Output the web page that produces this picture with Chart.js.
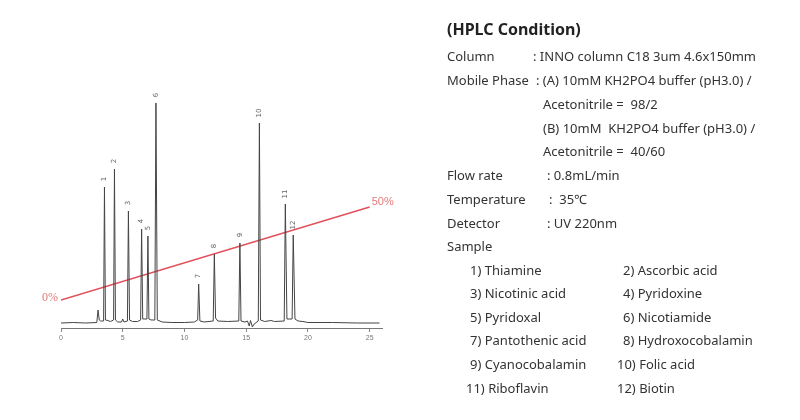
<!DOCTYPE html>
<html>
<head>
<meta charset="utf-8">
<script src="https://cdn.jsdelivr.net/npm/chart.js@4/dist/chart.umd.min.js"></script>
<style>
  body { margin: 0; background: #fff; }
  #wrap { position: relative; width: 800px; height: 420px; overflow: hidden; }
  #chart { position: absolute; left: 0; top: 0; }
  .t { position: absolute; font-family: "Noto Sans", sans-serif; font-size: 13px; color: #333; white-space: pre; line-height: 16px; }
  #title { font-weight: bold; font-size: 16px; color: #222; }
</style>
</head>
<body>
<div id="wrap">
  <canvas id="chart" width="800" height="420"></canvas>
  <div id="info"></div>
</div>
<script>
// peaks (retention time in min, height above baseline)
var peakNames = ['1','2','3','4','5','6','7','8','9','10','11','12'];
var peakTimes = [3.52, 4.33, 5.46, 6.53, 7.04, 7.69, 11.15, 12.42, 14.49, 16.07, 18.17, 18.81];
var peakHeights = [136, 154, 112, 94, 87, 220, 39, 69, 80, 200, 119, 88];

// detector trace, time / signal
var traceTime = [0, 1, 2, 2.9, 3.0, 3.1, 3.2, 3.45, 3.52, 3.6, 3.8, 4.0, 4.26, 4.33, 4.41, 4.6, 4.9, 5.0, 5.1,
  5.38, 5.46, 5.55, 5.8, 6.2, 6.45, 6.53, 6.62, 6.8, 6.96, 7.04, 7.12, 7.3, 7.6, 7.69, 7.8, 8.2, 9, 10,
  10.8, 11.07, 11.15, 11.25, 11.6, 12.33, 12.42, 12.52, 12.7, 13.5, 14.4, 14.49, 14.58, 14.9, 15.1, 15.25,
  15.35, 15.5, 15.65, 15.98, 16.07, 16.16, 16.5, 17, 17.3, 18.08, 18.17, 18.3, 18.72, 18.81, 18.95, 19.2,
  19.6, 20, 22, 24, 25.8];
var traceSignal = [0, 0.5, 0, 0.5, 13, 3, 2, 2, 136, 3, 2.5, 1.5, 3, 154, 3, 1, 1, 4, 1,
  2, 112, 3, 1.5, 1.5, 3, 94, 4, 4, 4, 87, 4, 3, 3, 220, 3, 1, 0.5, 0.5,
  1, 3, 39, 2, 1, 2, 69, 5, 2, 1.5, 2, 80, 2, 1, 2, -3,
  2.5, -4, -1, 2, 200, 3, 1.5, 2.5, 1.5, 2, 119, 4, 4, 88, 4, 2,
  1.5, 0.5, 0.5, 0, 0];

// acetonitrile gradient (B %)
var gradTime = [0, 25];
var gradPercent = [0, 50];

var xTicks = [0, 5, 10, 15, 20, 25];

var infoLines = [
  ['(HPLC Condition)', 447, 21, 'title'],
  ['Column', 447, 48],
  [': INNO column C18 3um 4.6x150mm', 533, 48],
  ['Mobile Phase', 447, 72],
  [': (A) 10mM KH2PO4 buffer (pH3.0) /', 536, 72],
  ['Acetonitrile =  98/2', 543, 96],
  ['(B) 10mM  KH2PO4 buffer (pH3.0) /', 543, 120],
  ['Acetonitrile =  40/60', 543, 143],
  ['Flow rate', 447, 167],
  [': 0.8mL/min', 547, 167],
  ['Temperature', 447, 191],
  [':  35\u2103', 549, 191],
  ['Detector', 447, 215],
  [': UV 220nm', 547, 215],
  ['Sample', 447, 238],
  ['1) Thiamine', 470, 262], ['2) Ascorbic acid', 623, 262],
  ['3) Nicotinic acid', 470, 285], ['4) Pyridoxine', 623, 285],
  ['5) Pyridoxal', 470, 309], ['6) Nicotiamide', 623, 309],
  ['7) Pantothenic acid', 470, 332], ['8) Hydroxocobalamin', 623, 332],
  ['9) Cyanocobalamin', 470, 356], ['10) Folic acid', 617, 356],
  ['11) Riboflavin', 466, 380], ['12) Biotin', 617, 380]
];

var info = document.getElementById('info');
infoLines.map(function (l) {
  var d = document.createElement('div');
  d.className = 't';
  if (l[3]) d.id = l[3];
  d.textContent = l[0];
  d.style.left = l[1] + 'px';
  d.style.top = l[2] + 'px';
  info.appendChild(d);
});

var tracePoints = traceTime.map(function (t, k) { return { x: t, y: traceSignal[k] }; });
var gradPoints = gradTime.map(function (t, k) { return { x: t, y: gradPercent[k] }; });

// peak numbers + gradient end labels
var labelPlugin = {
  id: 'labels',
  afterDatasetsDraw: function (chart) {
    var ctx = chart.ctx;
    var xs = chart.scales.x, ys = chart.scales.y, y2 = chart.scales.y2;
    ctx.save();
    ctx.fillStyle = '#666';
    ctx.font = '7px "DejaVu Sans", sans-serif';
    ctx.textAlign = 'center';
    ctx.textBaseline = 'middle';
    for (var k = 0; k < peakTimes.length; k++) {
      var px = xs.getPixelForValue(peakTimes[k]);
      var py = ys.getPixelForValue(peakHeights[k]) - 6 - peakNames[k].length * 2;
      ctx.save();
      ctx.translate(px, py);
      ctx.rotate(-Math.PI / 2);
      ctx.fillText(peakNames[k], 0, 0);
      ctx.restore();
    }
    ctx.fillStyle = '#e27a7a';
    ctx.font = '12px "Liberation Serif", serif';
    ctx.textAlign = 'right';
    ctx.fillText(gradPercent[0] + '%', xs.getPixelForValue(gradTime[0]) - 3, y2.getPixelForValue(gradPercent[0]) - 2);
    ctx.textAlign = 'left';
    ctx.font = '11px "Liberation Sans", sans-serif';
    ctx.fillText(gradPercent[1] + '%', xs.getPixelForValue(gradTime[1]) + 2, y2.getPixelForValue(gradPercent[1]) - 5);
    ctx.restore();
  }
};

new Chart(document.getElementById('chart').getContext('2d'), {
  type: 'line',
  data: {
    datasets: [{
      label: 'signal',
      data: tracePoints,
      borderColor: '#444',
      borderWidth: 1,
      pointRadius: 0,
      tension: 0,
      yAxisID: 'y'
    }, {
      label: 'gradient',
      data: gradPoints,
      borderColor: '#e2505c',
      borderWidth: 1.6,
      pointRadius: 0,
      yAxisID: 'y2'
    }]
  },
  options: {
    responsive: false,
    animation: false,
    layout: { padding: { left: 61, right: 418, top: 80, bottom: 70 } },
    plugins: { legend: { display: false }, tooltip: { enabled: false } },
    scales: {
      x: {
        type: 'linear',
        min: 0,
        max: 26,
        afterBuildTicks: function (s) { s.ticks = xTicks.map(function (v) { return { value: v }; }); },
        afterFit: function (s) { s.height = 22; },
        grid: { drawOnChartArea: false, tickLength: 4, color: '#888' },
        border: { color: '#777', width: 1 },
        ticks: { color: '#777', font: { size: 7 }, padding: 2, maxRotation: 0 }
      },
      y: { display: false, min: -5, max: 243 },
      y2: { display: false, min: -15.05, max: 118.3 }
    }
  },
  plugins: [labelPlugin]
});
</script>
</body>
</html>
